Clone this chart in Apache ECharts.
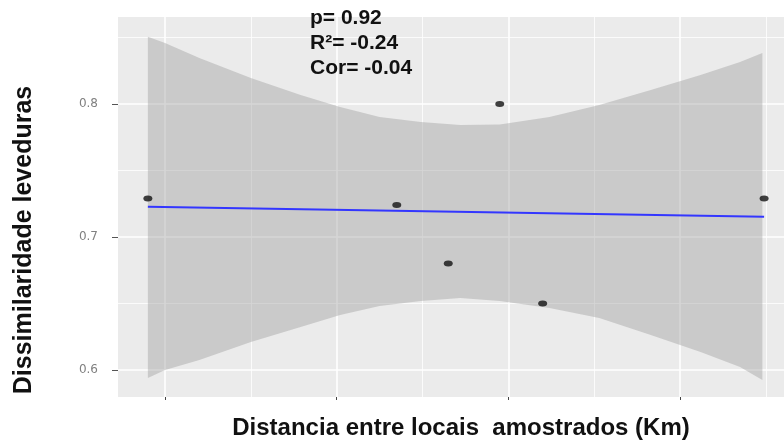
<!DOCTYPE html>
<html>
<head>
<meta charset="utf-8">
<title>Dissimilaridade leveduras</title>
<script src="https://cdn.jsdelivr.net/npm/echarts@6/dist/echarts.min.js"></script>
<style>
  html, body { margin: 0; padding: 0; background: #fff; }
  #chart { width: 784px; height: 444px; }
</style>
</head>
<body>
<div id="chart"></div>
<script>
// pontos observados
const pointX = [90, 235, 265, 295, 320, 449];
const pointY = [0.729, 0.724, 0.680, 0.800, 0.650, 0.729];

// reta ajustada (lm)
const fitX = [90, 449];
const fitY = [0.7228, 0.7153];

// faixa de confiança
const bandX = [90, 100, 120, 150, 179, 202, 225, 249, 272, 295, 324, 353, 383, 412, 435, 448];
const bandHigh = [0.8506, 0.8459, 0.8346, 0.8195, 0.8068, 0.7977, 0.7902, 0.7865, 0.7842, 0.7846, 0.7902, 0.7992, 0.8105, 0.8218, 0.8316, 0.8383];
const bandLow = [0.5940, 0.6000, 0.6075, 0.6211, 0.6323, 0.6414, 0.6481, 0.6519, 0.6541, 0.6519, 0.6466, 0.6391, 0.6263, 0.6135, 0.6023, 0.5925];

// linhas de grade / ticks
const xMajor = [100, 200, 300, 400];
const xMinor = [150, 250, 350, 450];
const yMajor = [0.6, 0.7, 0.8];
const yMinor = [0.65, 0.75, 0.85];

const stats = ['p= 0.92', 'R²= -0.24', 'Cor= -0.04'];

const chart = echarts.init(document.getElementById('chart'));

const gridLines = [];
xMajor.forEach(v => gridLines.push({ xAxis: v, lineStyle: { width: 1.6 } }));
xMinor.forEach(v => gridLines.push({ xAxis: v, lineStyle: { width: 0.8 } }));
yMajor.forEach(v => gridLines.push({ yAxis: v, lineStyle: { width: 1.6 } }));
yMinor.forEach(v => gridLines.push({ yAxis: v, lineStyle: { width: 0.8 } }));

const option = {
  animation: false,
  grid: {
    left: 118, right: 0, top: 17, bottom: 47,
    show: true, backgroundColor: '#EBEBEB', borderWidth: 0
  },
  xAxis: {
    type: 'value',
    min: 72.6,
    max: 460.6,
    axisLine: { show: false },
    axisLabel: { show: false },
    axisTick: { show: true, customValues: xMajor, length: 3, lineStyle: { color: '#444', width: 1 } },
    splitLine: { show: false }
  },
  yAxis: {
    type: 'value',
    min: 0.5797,
    max: 0.8654,
    axisLine: { show: false },
    axisTick: { show: true, customValues: yMajor, length: 6, lineStyle: { color: '#555', width: 1 } },
    axisLabel: {
      customValues: yMajor,
      margin: 20,
      color: '#808080',
      fontSize: 12,
      fontFamily: 'DejaVu Sans',
      formatter: v => v.toFixed(1)
    },
    splitLine: { show: false }
  },
  graphic: [
    {
      type: 'text', left: 310, top: 6, z: 100,
      style: {
        text: stats.join('\n'),
        font: 'bold 21px "Liberation Sans", Arial, sans-serif',
        lineHeight: 25,
        fill: '#111'
      }
    },
    {
      type: 'text', x: 461, y: 428, z: 100,
      style: {
        text: 'Distancia entre locais  amostrados (Km)',
        font: 'bold 24px "Liberation Sans", Arial, sans-serif',
        textAlign: 'center', textVerticalAlign: 'middle',
        fill: '#111'
      }
    },
    {
      type: 'text', x: 24, y: 240, rotation: Math.PI / 2, z: 100,
      style: {
        text: 'Dissimilaridade leveduras',
        font: 'bold 25px "Liberation Sans", Arial, sans-serif',
        textAlign: 'center', textVerticalAlign: 'middle',
        fill: '#111'
      }
    }
  ],
  series: [
    {
      // grade branca do painel
      type: 'line',
      data: [],
      z: 1,
      silent: true,
      markLine: {
        z: 1,
        silent: true,
        symbol: 'none',
        label: { show: false },
        lineStyle: { color: '#fff', type: 'solid' },
        data: gridLines
      }
    },
    {
      // faixa de confiança
      type: 'custom',
      z: 2,
      silent: true,
      data: bandX.map((x, i) => [x, bandLow[i], bandHigh[i]]),
      renderItem: (params, api) => {
        if (params.dataIndex !== 0) return;
        const pts = [];
        for (let i = 0; i < bandX.length; i++) pts.push(api.coord([bandX[i], bandHigh[i]]));
        for (let i = bandX.length - 1; i >= 0; i--) pts.push(api.coord([bandX[i], bandLow[i]]));
        return {
          type: 'polygon',
          shape: { points: pts },
          style: { fill: 'rgba(153,153,153,0.4)' }
        };
      }
    },
    {
      type: 'line',
      z: 3,
      data: fitX.map((x, i) => [x, fitY[i]]),
      showSymbol: false,
      lineStyle: { color: '#3336FF', width: 2 }
    },
    {
      type: 'scatter',
      z: 4,
      data: pointX.map((x, i) => [x, pointY[i]]),
      symbol: 'circle',
      symbolSize: [9, 6],
      itemStyle: { color: '#111' }
    }
  ]
};

chart.setOption(option);
</script>
</body>
</html>
